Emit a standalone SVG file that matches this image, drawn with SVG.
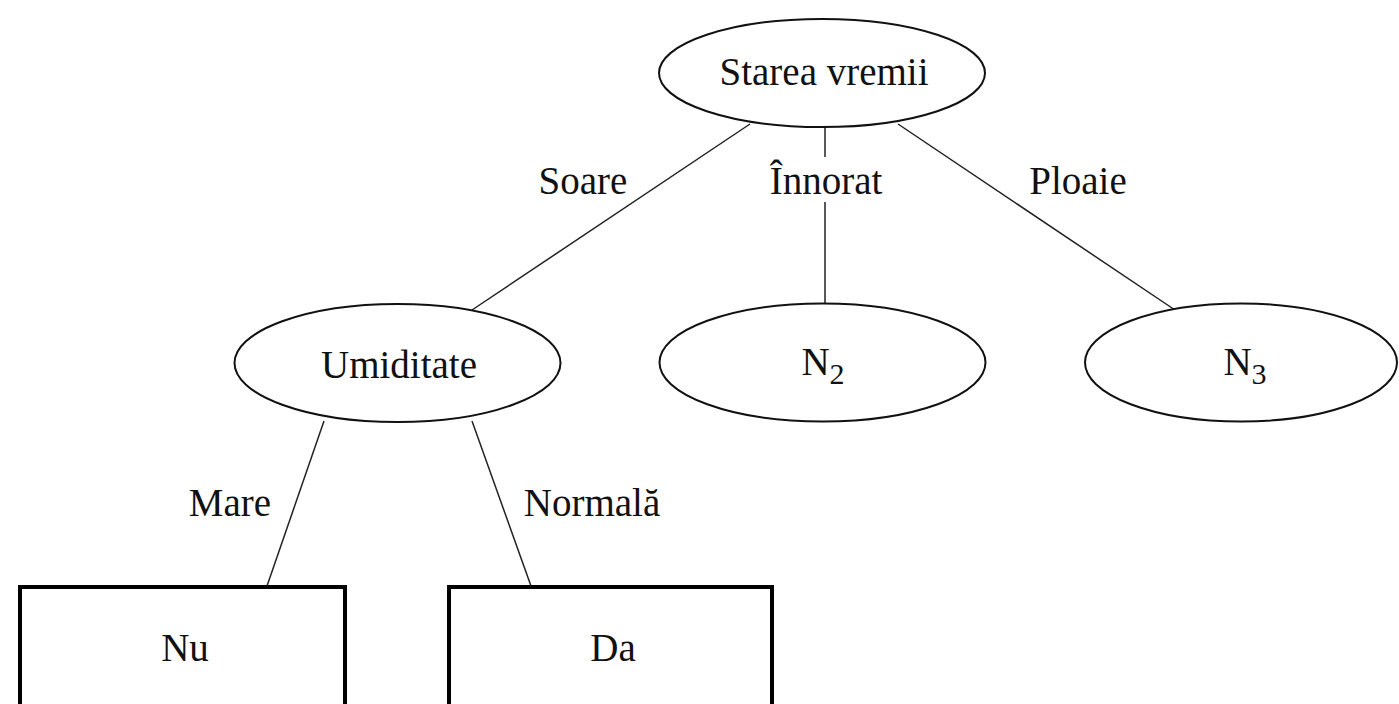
<svg xmlns="http://www.w3.org/2000/svg" width="1399" height="704" viewBox="0 0 1399 704">
  <style>
    .bg { fill: #ffffff; }
    .node { fill: #ffffff; stroke: #111111; stroke-width: 2; }
    .leaf { fill: #ffffff; stroke: #000000; stroke-width: 4; }
    .edge { stroke: #222222; stroke-width: 1.5; fill: none; }
    text { font-family: "Liberation Serif", "Times New Roman", serif; font-size: 39px; fill: #111111; }
    .c { text-anchor: middle; }
    .sub { font-size: 30px; }
  </style>
  <rect class="bg" x="0" y="0" width="1399" height="704"/>

  <!-- connectors and their labels -->
  <g id="connectors">
    <line class="edge" x1="750" y1="124" x2="472" y2="310"/>
    <line class="edge" x1="825" y1="126" x2="825" y2="157"/>
    <line class="edge" x1="825" y1="202" x2="825" y2="303"/>
    <line class="edge" x1="898" y1="124" x2="1175" y2="310"/>
    <line class="edge" x1="324" y1="421" x2="267" y2="586"/>
    <line class="edge" x1="472" y1="421" x2="531" y2="586"/>
    <text x="583" y="194" class="c">Soare</text>
    <text x="826" y="194" class="c">Înnorat</text>
    <text x="1078" y="194" class="c">Ploaie</text>
    <text x="230" y="516" class="c">Mare</text>
    <text x="592" y="516" class="c">Normală</text>
  </g>

  <g id="node-starea">
    <ellipse class="node" cx="822" cy="73" rx="163" ry="54"/>
    <text x="824" y="85" class="c">Starea vremii</text>
  </g>

  <g id="node-umiditate">
    <ellipse class="node" cx="397.5" cy="363" rx="163" ry="59"/>
    <text x="399" y="378" class="c">Umiditate</text>
  </g>

  <g id="node-n2">
    <ellipse class="node" cx="822.5" cy="362.5" rx="163" ry="59"/>
    <text x="823" y="375" class="c">N<tspan class="sub" dy="9">2</tspan></text>
  </g>

  <g id="node-n3">
    <ellipse class="node" cx="1241" cy="362.5" rx="156" ry="59"/>
    <text x="1245" y="375" class="c">N<tspan class="sub" dy="9">3</tspan></text>
  </g>

  <g id="leaf-nu">
    <rect class="leaf" x="20" y="587" width="325" height="130"/>
    <text x="185" y="661" class="c">Nu</text>
  </g>

  <g id="leaf-da">
    <rect class="leaf" x="449" y="587" width="323" height="130"/>
    <text x="613" y="661" class="c">Da</text>
  </g>
</svg>
